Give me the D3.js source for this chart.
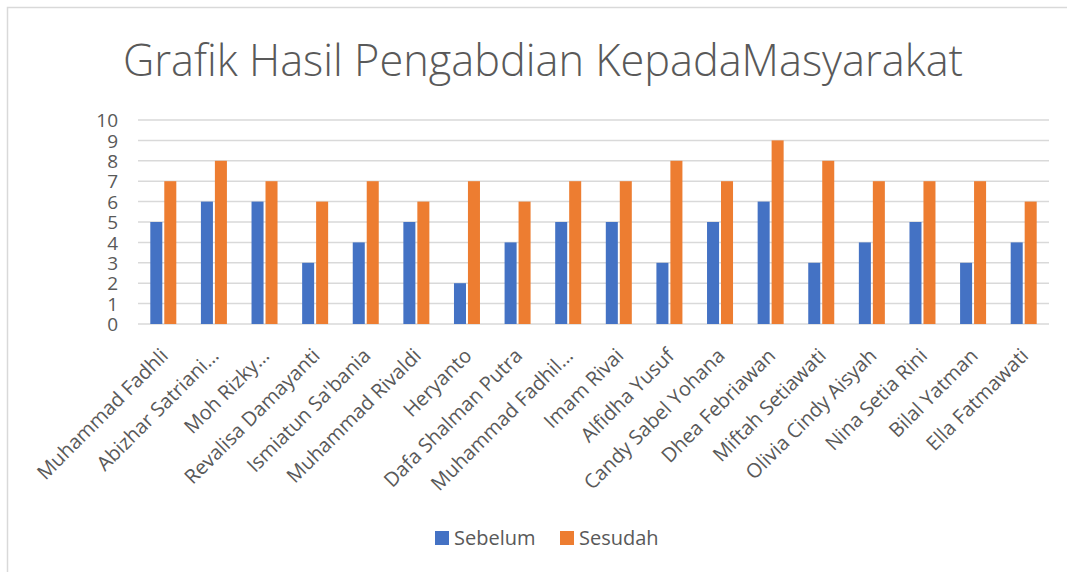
<!DOCTYPE html>
<html><head><meta charset="utf-8">
<script src="https://cdn.jsdelivr.net/npm/d3@7"></script>
<style>body{margin:0;background:#fff}svg{display:block}text{font-family:"Open Sans","Noto Sans",sans-serif;fill:#595959}</style>
</head><body>
<svg id="c" width="1067" height="572"></svg>
<script>
const categories = ["Muhammad Fadhli","Abizhar Satriani…","Moh Rizky…","Revalisa Damayanti","Ismiatun Sa'bania","Muhammad Rivaldi","Heryanto","Dafa Shalman Putra","Muhammad Fadhil…","Imam Rivai","Alfidha Yusuf","Candy Sabel Yohana","Dhea Febriawan","Miftah Setiawati","Olivia Cindy Aisyah","Nina Setia Rini","Bilal Yatman","Ella Fatmawati"];
const sebelum = [5,6,6,3,4,5,2,4,5,5,3,5,6,3,4,5,3,4];
const sesudah = [7,8,7,6,7,6,7,6,7,7,8,7,9,8,7,7,7,6];
const seriesNames = ["Sebelum","Sesudah"];
const colors = ["#4472C4","#ED7D31"];
const yTicks = [0,1,2,3,4,5,6,7,8,9,10];
const title = "Grafik Hasil Pengabdian KepadaMasyarakat";

const svg = d3.select("#c");
svg.append("rect").attr("x",7.5).attr("y",7.5).attr("width",1080).attr("height",580)
  .attr("fill","#fff").attr("stroke","#d9d9d9").attr("stroke-width",1.5);

const pLeft=138, pRight=1049, pTop=120, pBottom=324;
const x0 = d3.scaleBand().domain(categories).range([pLeft,pRight]).padding(0);
const x1 = d3.scaleBand().domain([0,1]).range([0,26]).paddingInner(0.14);
const y = d3.scaleLinear().domain([0,10]).range([pBottom,pTop]);

// gridlines
svg.append("g").selectAll("line").data(yTicks).join("line")
  .attr("x1",pLeft).attr("x2",pRight).attr("y1",d=>y(d)).attr("y2",d=>y(d))
  .attr("stroke","#d9d9d9").attr("stroke-width",1.5);

// y axis labels
const yAxis = d3.axisLeft(y).tickValues(yTicks).tickSize(0).tickPadding(0);
const gy = svg.append("g").attr("transform",`translate(118,0)`).call(yAxis);
gy.select(".domain").remove();
gy.selectAll("text").style("font-size","19px").style("font-family","'Open Sans',sans-serif").attr("fill","#595959").attr("dy","0.35em");

// bars
const groups = svg.append("g").selectAll("g").data(categories).join("g")
  .attr("transform",d=>`translate(${x0(d)+x0.bandwidth()/2-13},0)`);
groups.selectAll("rect").data((d,i)=>[sebelum[i],sesudah[i]]).join("rect")
  .attr("x",(d,j)=>x1(j)).attr("width",x1.bandwidth())
  .attr("y",d=>y(d)).attr("height",d=>pBottom-y(d))
  .attr("fill",(d,j)=>colors[j]);

// x labels
svg.append("g").selectAll("text").data(categories).join("text")
  .attr("transform",d=>`translate(${x0(d)+x0.bandwidth()/2+6},357) rotate(-45)`)
  .attr("text-anchor","end").style("font-size","20px").text(d=>d);

// title
svg.append("text").attr("x",543).attr("y",76).attr("text-anchor","middle")
  .style("font-size","43.3px").style("font-weight","300").text(title);

// legend
const lg = svg.append("g");
const legX = [435,560];
seriesNames.forEach((s,i)=>{
  lg.append("rect").attr("x",legX[i]).attr("y",531).attr("width",14).attr("height",14).attr("fill",colors[i]);
  lg.append("text").attr("x",legX[i]+19).attr("y",538).attr("dy","0.35em").style("font-size","20px").text(s);
});
</script>
</body></html>
